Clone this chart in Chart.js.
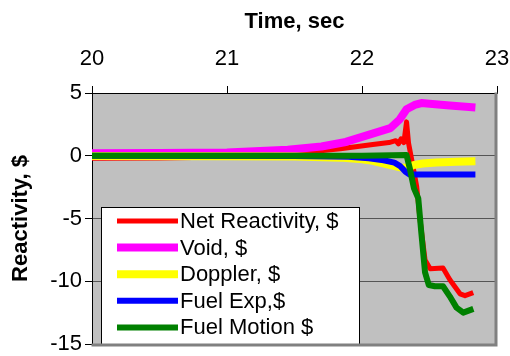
<!DOCTYPE html>
<html>
<head>
<meta charset="utf-8">
<script src="https://cdn.jsdelivr.net/npm/chart.js@4/dist/chart.umd.min.js"></script>
<style>
  html, body { margin: 0; padding: 0; background: #fff; }
  canvas { display: block; }
</style>
</head>
<body>
<canvas id="chart" width="510" height="356"></canvas>
<script>
// Reactivity components during the transient (time in seconds, reactivity in dollars)
const seriesLabels = ['Net Reactivity, $', 'Void, $', 'Doppler, $', 'Fuel Exp,$', 'Fuel Motion $'];

const netTime  = [20, 20.5, 21.0, 21.3, 21.6, 21.84, 22.08, 22.2, 22.25, 22.27, 22.29, 22.31, 22.33, 22.345, 22.368, 22.405, 22.43, 22.467, 22.505, 22.6, 22.652, 22.726, 22.763, 22.824];
const netValue = [-0.2, -0.18, -0.1, 0.05, 0.3, 0.55, 0.9, 1.05, 1.2, 0.95, 1.35, 1.05, 2.7, 1.0, -0.3, -2.45, -5.1, -8.3, -9.0, -8.95, -9.9, -11.0, -11.15, -10.9];

const voidTime  = [20, 20.5, 21.0, 21.45, 21.7, 21.88, 22.06, 22.21, 22.28, 22.33, 22.39, 22.44, 22.5, 22.65, 22.84];
const voidValue = [0.2, 0.22, 0.26, 0.48, 0.74, 1.1, 1.7, 2.2, 2.9, 3.7, 4.05, 4.2, 4.15, 4.0, 3.85];

const dopplerTime  = [20, 21.0, 21.5, 21.84, 22.0, 22.08, 22.21, 22.3, 22.34, 22.38, 22.45, 22.55, 22.7, 22.84];
const dopplerValue = [-0.02, -0.03, -0.06, -0.15, -0.28, -0.4, -0.75, -0.97, -0.92, -0.75, -0.62, -0.53, -0.48, -0.44];

const fuelExpTime  = [20, 21.5, 21.9, 22.05, 22.16, 22.24, 22.28, 22.32, 22.35, 22.4, 22.84];
const fuelExpValue = [0, -0.02, -0.08, -0.2, -0.36, -0.55, -0.8, -1.25, -1.48, -1.5, -1.5];

const motionTime  = [20, 22.0, 22.33, 22.356, 22.385, 22.417, 22.44, 22.467, 22.495, 22.54, 22.6, 22.65, 22.7, 22.75, 22.825];
const motionValue = [0, 0, 0.05, -1.1, -2.6, -3.4, -6.2, -9.3, -10.3, -10.4, -10.4, -11.2, -12.1, -12.5, -12.2];

const timeTicks = [20, 21, 22, 23];
const reactivityTicks = [5, 0, -5, -10, -15];

const FONT = "'Liberation Sans', Arial, Helvetica, sans-serif";

function points(t, v) { return t.map((x, i) => ({ x: x, y: v[i] })); }

function line(label, t, v, color, width, order) {
  return {
    label: label,
    data: points(t, v),
    showLine: true,
    borderColor: color,
    backgroundColor: color,
    borderWidth: width,
    pointRadius: 0,
    pointHoverRadius: 0,
    tension: 0,
    fill: false,
    borderJoinStyle: 'round',
    order: order
  };
}

// grey plotting area behind everything
const plotBackground = {
  id: 'plotBackground',
  beforeDraw(chart) {
    const { ctx, chartArea: a } = chart;
    ctx.save();
    ctx.fillStyle = '#C0C0C0';
    ctx.fillRect(a.left, a.top, a.right - a.left, a.bottom - a.top);
    ctx.restore();
  }
};

// boxed legend inside the plot, plus the shaded right/bottom frame
const boxLegend = {
  id: 'boxLegend',
  afterDraw(chart) {
    const { ctx, chartArea: a } = chart;
    const left = a.left + 9, top = a.top + 114;
    const right = a.left + 268, bottom = a.bottom;
    ctx.save();
    ctx.fillStyle = '#fff';
    ctx.fillRect(left, top, right - left, bottom - top);
    ctx.strokeStyle = '#000';
    ctx.lineWidth = 1;
    ctx.strokeRect(left + 0.5, top + 0.5, right - left - 1, bottom - top);
    ctx.font = '22px ' + FONT;
    ctx.textBaseline = 'middle';
    ctx.textAlign = 'left';
    chart.data.datasets.forEach((ds, i) => {
      const y = top + 14 + i * 26.6;
      ctx.strokeStyle = ds.borderColor;
      ctx.lineWidth = ds.borderWidth;
      ctx.lineCap = 'butt';
      ctx.beginPath();
      ctx.moveTo(left + 16, y);
      ctx.lineTo(left + 77, y);
      ctx.stroke();
      ctx.fillStyle = '#000';
      ctx.fillText(ds.label, left + 79, y + 1);
    });
    // frame shading on the right and bottom edges
    ctx.strokeStyle = '#808080';
    ctx.lineWidth = 3;
    ctx.lineCap = 'square';
    ctx.beginPath();
    ctx.moveTo(a.right - 1, a.top + 1);
    ctx.lineTo(a.right - 1, a.bottom + 1);
    ctx.lineTo(a.left + 1, a.bottom + 1);
    ctx.stroke();
    ctx.restore();
  }
};

new Chart(document.getElementById('chart'), {
  type: 'scatter',
  data: {
    datasets: [
      line(seriesLabels[0], netTime, netValue, '#FF0000', 5, 5),
      line(seriesLabels[1], voidTime, voidValue, '#FF00FF', 8, 4),
      line(seriesLabels[2], dopplerTime, dopplerValue, '#FFFF00', 8, 3),
      line(seriesLabels[3], fuelExpTime, fuelExpValue, '#0000FF', 6, 2),
      line(seriesLabels[4], motionTime, motionValue, '#008000', 6, 1)
    ]
  },
  options: {
    responsive: false,
    animation: false,
    devicePixelRatio: 1,
    layout: { padding: { left: 0, top: 0, right: 13, bottom: 12 } },
    plugins: {
      legend: { display: false },
      tooltip: { enabled: false }
    },
    scales: {
      x: {
        type: 'linear',
        position: 'top',
        min: timeTicks[0],
        max: timeTicks[timeTicks.length - 1],
        afterBuildTicks(scale) { scale.ticks = timeTicks.map(v => ({ value: v })); },
        ticks: { color: '#000', font: { family: FONT, size: 22 }, padding: 14, maxRotation: 0 },
        grid: { drawOnChartArea: false, tickLength: 7, tickColor: '#000', tickWidth: 1 },
        border: { color: '#000', width: 1 },
        title: {
          display: true, text: 'Time, sec', color: '#000',
          font: { family: FONT, size: 22, weight: 'bold' },
          padding: { top: 9, bottom: 0 }
        },
        afterFit(scale) {
          scale.height = 93;
          scale.paddingLeft = 0;
          scale.paddingRight = 0;
        }
      },
      y: {
        type: 'linear',
        min: reactivityTicks[reactivityTicks.length - 1],
        max: reactivityTicks[0],
        afterBuildTicks(scale) { scale.ticks = reactivityTicks.slice().reverse().map(v => ({ value: v })); },
        ticks: { color: '#000', font: { family: FONT, size: 22 }, padding: 3 },
        grid: { color: '#555', lineWidth: 1, tickLength: 7, tickColor: '#000', tickWidth: 1 },
        border: { color: '#000', width: 1 },
        title: {
          display: true, text: 'Reactivity, $', color: '#000',
          font: { family: FONT, size: 22, weight: 'bold' },
          padding: { top: 8, bottom: 0 }
        },
        afterFit(scale) {
          scale.width = 92;
          scale.paddingTop = 0;
          scale.paddingBottom = 0;
        }
      }
    }
  },
  plugins: [plotBackground, boxLegend]
});
</script>
</body>
</html>
